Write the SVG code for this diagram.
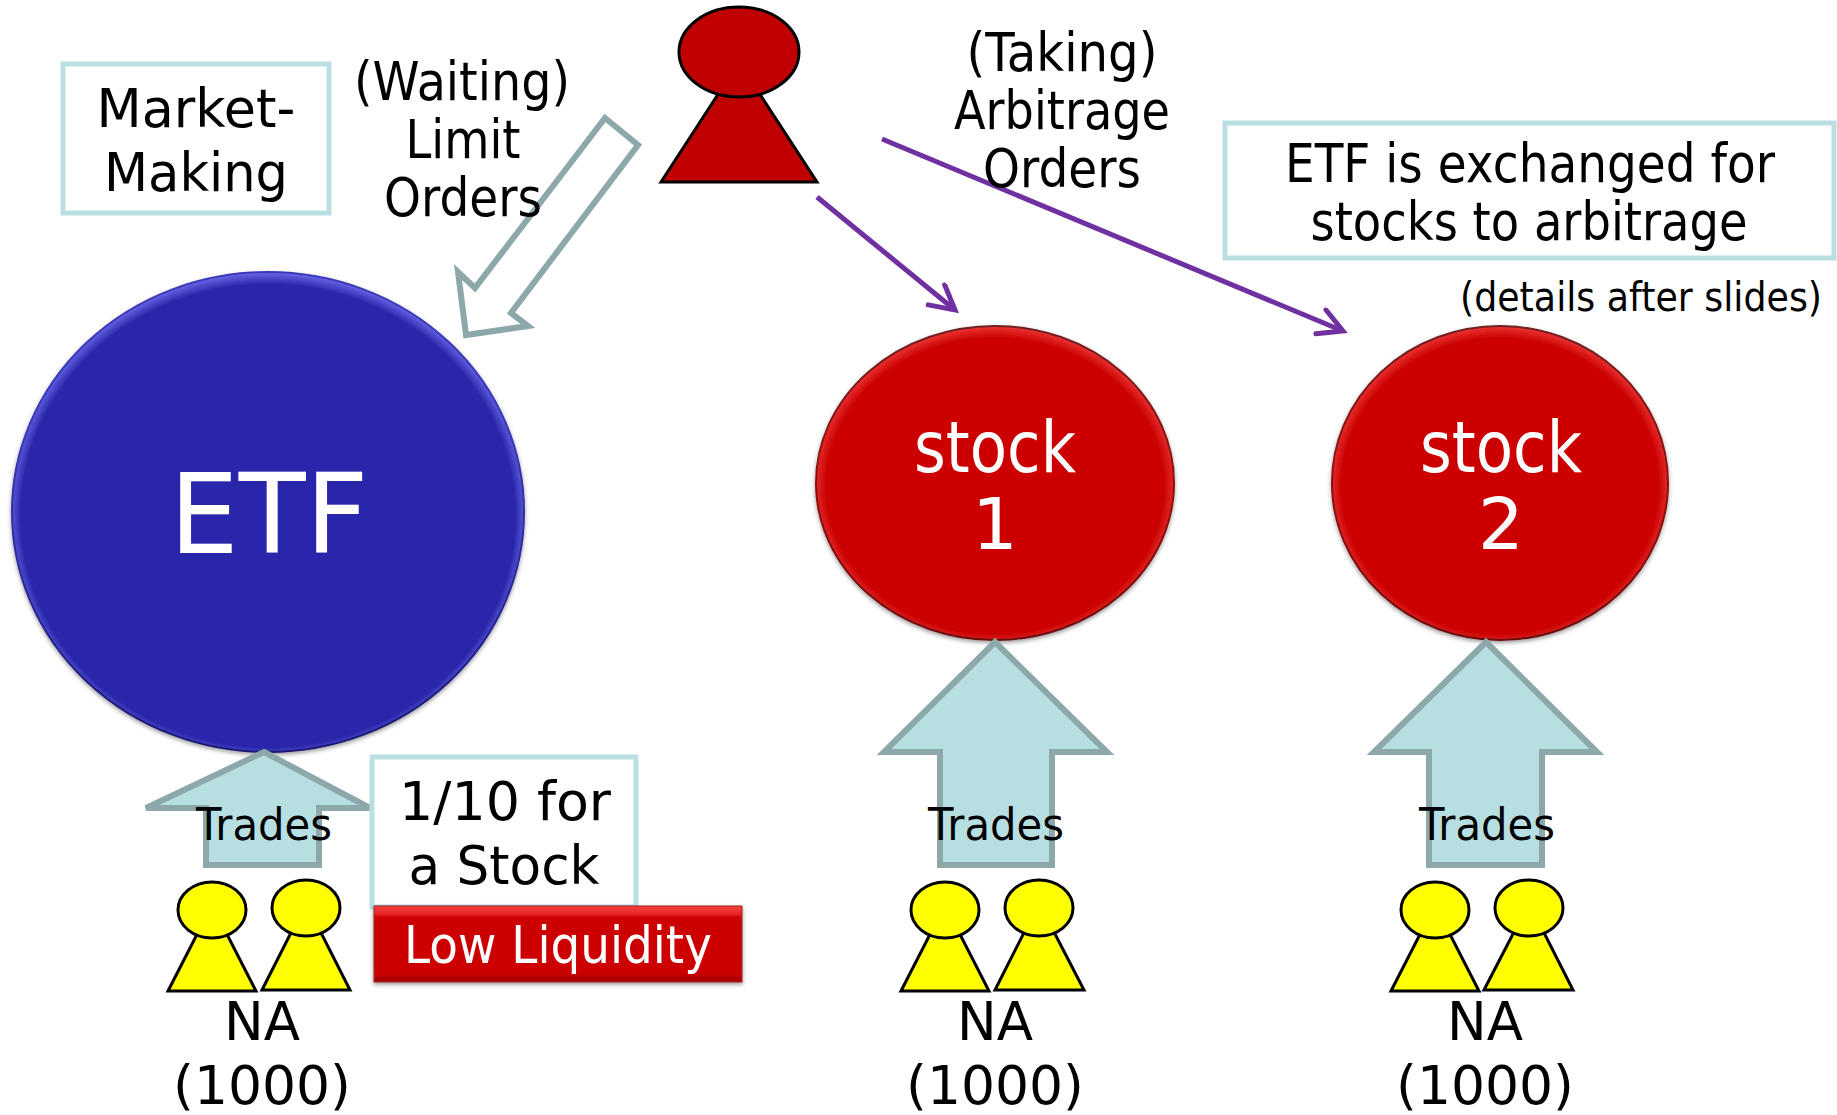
<svg xmlns="http://www.w3.org/2000/svg" width="1837" height="1115" viewBox="0 0 1837 1115">
<style>
text{font-family:"DejaVu Sans","Liberation Sans",sans-serif;text-anchor:middle;fill:#000}
.t{font-size:54px}.w{fill:#fff}
.e{text-anchor:end}
.box{fill:#fff;stroke:#b9dfe3;stroke-width:5}
.up{fill:#b7dfe2;stroke:#8ca8ab;stroke-width:6}
.p{fill:#ff0;stroke:#000;stroke-width:3}
.pr{fill:#c00000;stroke:#000;stroke-width:3}
.ln{fill:none;stroke:#7030a0;stroke-width:5}
</style>
<defs>
<radialGradient id="bl" cx="50%" cy="50.8%" r="50.8%"><stop offset="0.95" stop-color="#2a27ab"/><stop offset="1" stop-color="#6a68e8"/></radialGradient>
<radialGradient id="rd" cx="50%" cy="51%" r="51%"><stop offset="0.93" stop-color="#cc0505"/><stop offset="1" stop-color="#ee3535"/></radialGradient>
<linearGradient id="edgeB" x1="0" y1="0" x2="0" y2="1"><stop offset="0.3" stop-color="#3a38b8"/><stop offset="1" stop-color="#1a1870"/></linearGradient>
<linearGradient id="edgeR" x1="0" y1="0" x2="0" y2="1"><stop offset="0" stop-color="#702020"/><stop offset="0.5" stop-color="#901010"/><stop offset="1" stop-color="#6a1010"/></linearGradient>
<linearGradient id="ll" x1="0" y1="0" x2="0" y2="1"><stop offset="0" stop-color="#f54040"/><stop offset="0.1" stop-color="#e82828"/><stop offset="0.15" stop-color="#cc0505"/><stop offset="0.88" stop-color="#cc0505"/><stop offset="1" stop-color="#a00404"/></linearGradient>
<filter id="sh" x="-5%" y="-5%" width="110%" height="120%"><feDropShadow dx="0" dy="2" stdDeviation="2" flood-color="#000" flood-opacity="0.4"/></filter>
<marker id="a" markerUnits="userSpaceOnUse" markerWidth="40" markerHeight="40" refX="30" refY="15" orient="auto"><path d="M6 2L30 15L6 28" fill="none" stroke="#7030a0" stroke-width="5" stroke-linecap="round"/></marker>
</defs>
<g id="connectors">
<path class="ln" d="M817 197L955 310" marker-end="url(#a)"/>
<path class="ln" d="M882 139L1343 331" marker-end="url(#a)"/>
<path id="limit-arrow" d="M605 118L638 145L511 313L528 326L466 335L458 272L475 288Z" fill="#fff" stroke="#8ca8ab" stroke-width="6"/>
</g>
<g id="arbitrager">
<path class="pr" d="M661 182L739 62L817 182Z"/>
<ellipse class="pr" cx="739" cy="52" rx="60" ry="45"/>
</g>
<g id="market-making"><rect class="box" x="63" y="64" width="266" height="149"/>
<text class="t" x="196" y="127" textLength="199" lengthAdjust="spacingAndGlyphs">Market-</text>
<text class="t" x="196" y="191" textLength="184" lengthAdjust="spacingAndGlyphs">Making</text></g>
<g id="waiting">
<text class="t" x="462" y="100" textLength="216" lengthAdjust="spacingAndGlyphs">(Waiting)</text>
<text class="t" x="463" y="158" textLength="115" lengthAdjust="spacingAndGlyphs">Limit</text>
<text class="t" x="463" y="216" textLength="158" lengthAdjust="spacingAndGlyphs">Orders</text></g>
<g id="taking">
<text class="t" x="1062" y="71" textLength="191" lengthAdjust="spacingAndGlyphs">(Taking)</text>
<text class="t" x="1062" y="129" textLength="216" lengthAdjust="spacingAndGlyphs">Arbitrage</text>
<text class="t" x="1062" y="187" textLength="158" lengthAdjust="spacingAndGlyphs">Orders</text></g>
<g id="exchange-note"><rect class="box" x="1225" y="123" width="609" height="135"/>
<text class="t e" x="1775" y="182" textLength="490" lengthAdjust="spacingAndGlyphs">ETF is exchanged for</text>
<text class="t" x="1529" y="240" textLength="437" lengthAdjust="spacingAndGlyphs">stocks to arbitrage</text></g>
<text class="e" x="1822" y="311" font-size="40" textLength="362" lengthAdjust="spacingAndGlyphs">(details after slides)</text>
<g id="etf"><ellipse cx="268" cy="512" rx="256" ry="240" fill="url(#bl)" stroke="url(#edgeB)" stroke-width="2" filter="url(#sh)"/>
<text class="w" x="269" y="553" font-size="110" textLength="199" lengthAdjust="spacingAndGlyphs">ETF</text></g>
<g id="stock1"><ellipse cx="995" cy="483" rx="179" ry="157" fill="url(#rd)" stroke="url(#edgeR)" stroke-width="2" filter="url(#sh)"/>
<text class="w" x="995" y="472" font-size="72" textLength="162" lengthAdjust="spacingAndGlyphs">stock</text>
<text class="w" x="995" y="549" font-size="72">1</text></g>
<g id="stock2"><ellipse cx="1500" cy="483" rx="168" ry="157" fill="url(#rd)" stroke="url(#edgeR)" stroke-width="2" filter="url(#sh)"/>
<text class="w" x="1501" y="472" font-size="72" textLength="162" lengthAdjust="spacingAndGlyphs">stock</text>
<text class="w" x="1501" y="549" font-size="72">2</text></g>
<g id="trades-etf"><path class="up" d="M264 752L370 808H319V865H206V808H146Z"/>
<text x="264" y="840" font-size="44" textLength="136" lengthAdjust="spacingAndGlyphs">Trades</text></g>
<g id="trades-1"><path class="up" d="M995 642L1107 752H1052V865H940V752H884Z"/>
<text x="996" y="840" font-size="44" textLength="136" lengthAdjust="spacingAndGlyphs">Trades</text></g>
<g id="trades-2"><path class="up" d="M1486 642L1597 752H1542V865H1429V752H1374Z"/>
<text x="1487" y="840" font-size="44" textLength="136" lengthAdjust="spacingAndGlyphs">Trades</text></g>
<g id="note-etf"><rect class="box" x="372" y="757" width="264" height="150"/>
<text class="t" x="505" y="820" textLength="212" lengthAdjust="spacingAndGlyphs">1/10 for</text>
<text class="t" x="504" y="884" textLength="191" lengthAdjust="spacingAndGlyphs">a Stock</text></g>
<g id="low-liquidity"><rect x="374" y="906" width="368" height="76" fill="url(#ll)" stroke="#a02020" stroke-width="1" filter="url(#sh)"/>
<text class="w" x="558" y="963" font-size="52" textLength="308" lengthAdjust="spacingAndGlyphs">Low Liquidity</text></g>
<g id="na-etf"><path class="p" d="M168 991L212 905L256 991Z"/><ellipse class="p" cx="212" cy="910" rx="34" ry="28"/>
<path class="p" d="M262 990L306 903L350 990Z"/><ellipse class="p" cx="306" cy="908" rx="34" ry="28"/>
<text class="t" x="262" y="1040" textLength="76" lengthAdjust="spacingAndGlyphs">NA</text><text class="t" x="262" y="1104" textLength="178" lengthAdjust="spacingAndGlyphs">(1000)</text></g>
<g id="na-1"><path class="p" d="M901 991L945 905L989 991Z"/><ellipse class="p" cx="945" cy="910" rx="34" ry="28"/>
<path class="p" d="M995 990L1039 903L1084 990Z"/><ellipse class="p" cx="1039" cy="908" rx="34" ry="28"/>
<text class="t" x="995" y="1040" textLength="76" lengthAdjust="spacingAndGlyphs">NA</text><text class="t" x="995" y="1104" textLength="178" lengthAdjust="spacingAndGlyphs">(1000)</text></g>
<g id="na-2"><path class="p" d="M1391 991L1435 905L1479 991Z"/><ellipse class="p" cx="1435" cy="910" rx="34" ry="28"/>
<path class="p" d="M1484 990L1529 903L1573 990Z"/><ellipse class="p" cx="1529" cy="908" rx="34" ry="28"/>
<text class="t" x="1485" y="1040" textLength="76" lengthAdjust="spacingAndGlyphs">NA</text><text class="t" x="1485" y="1104" textLength="178" lengthAdjust="spacingAndGlyphs">(1000)</text></g>
</svg>
